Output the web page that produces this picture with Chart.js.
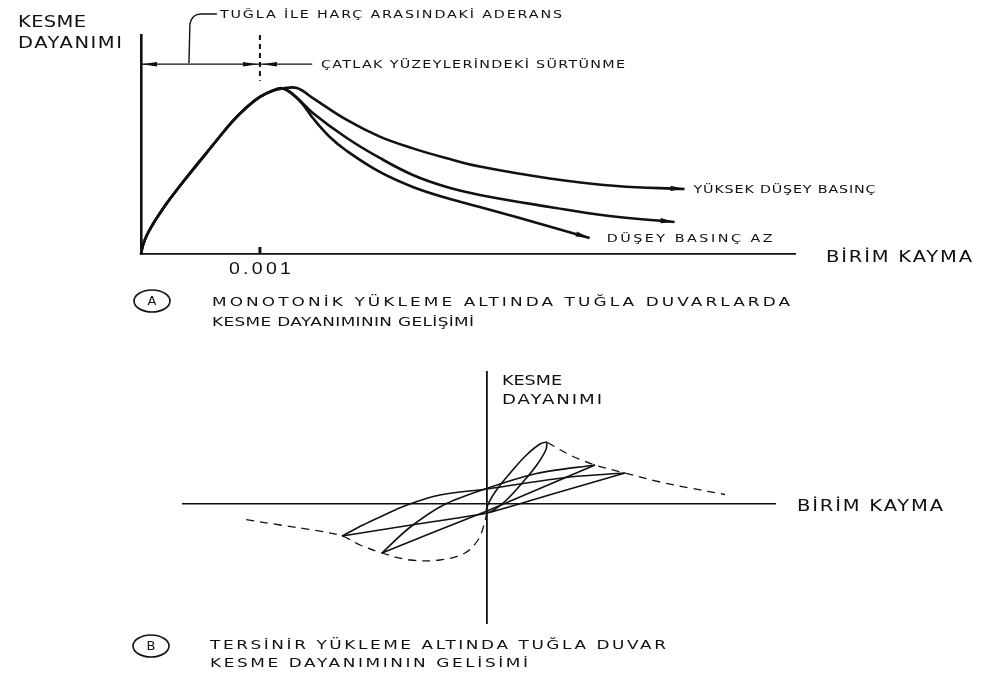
<!DOCTYPE html>
<html><head><meta charset="utf-8">
<script src="https://cdn.jsdelivr.net/npm/chart.js@4.4.0/dist/chart.umd.min.js"></script>
<style>
html,body{margin:0;padding:0;background:#fff;}
#wrap{position:relative;width:998px;height:679px;overflow:hidden;background:#fff;}
#ca{position:absolute;left:0;top:0;}
#cb{position:absolute;left:0;top:340px;}
</style></head><body>
<div id="wrap"><canvas id="ca" width="998" height="340"></canvas><canvas id="cb" width="998" height="339"></canvas></div>
<script>
// ===== Chart A: monotonic loading (x = unit shear strain in 10^-3, y = shear strength / peak) =====
const riseX = [0, 0.017, 0.050, 0.101, 0.160, 0.218, 0.353, 0.496, 0.639, 0.773, 0.891, 1.0, 1.101, 1.193];
const riseY = [0, 0.055, 0.115, 0.182, 0.248, 0.309, 0.436, 0.564, 0.691, 0.806, 0.891, 0.952, 0.988, 1.003];
const highX = [1.311, 1.445, 1.731, 2.008, 2.286, 2.571, 2.849, 3.437, 4.0, 4.571];
const highY = [1.006, 0.945, 0.812, 0.711, 0.640, 0.580, 0.530, 0.458, 0.412, 0.394];
const midX  = [1.277, 1.445, 1.731, 2.008, 2.286, 2.571, 2.849, 3.437, 3.941, 4.487];
const midY  = [0.970, 0.855, 0.703, 0.582, 0.479, 0.406, 0.358, 0.285, 0.230, 0.194];
const lowX  = [1.336, 1.445, 1.588, 1.731, 2.008, 2.286, 2.571, 2.849, 3.185, 3.479, 3.773];
const lowY  = [0.927, 0.824, 0.709, 0.624, 0.497, 0.406, 0.339, 0.285, 0.218, 0.158, 0.097];
const tickValuesA = [1.0];
const tickLabelsA = ['0.001'];
const seriesLabelsA = ['YÜKSEK DÜŞEY BASINÇ', '', 'DÜŞEY BASINÇ AZ'];
const zoneBoundary = 1.0;      // end of adhesion zone
const dimY = 1.15;             // level of dimension line
const dimEnd = 1.44;
const leaderX = 0.403;

// ===== Chart B: cyclic loading (arbitrary units) =====
const loop1X = [1.20, 1.06, 0.79, 0.48, 0.19, 0.02, 0.0, 0.14, 0.41, 0.72, 1.01, 1.18, 1.20];
const loop1Y = [1.24, 1.20, 0.98, 0.64, 0.28, -0.01, -0.16, -0.12, 0.10, 0.44, 0.80, 1.09, 1.24];
const loop2UpX = [-2.10, -1.57, -0.87, -0.01, 0.99, 2.16];
const loop2UpY = [-0.98, -0.49, -0.02, 0.31, 0.61, 0.78];
const loop2LoX = [2.16, 1.08, 0.0, -1.06, -2.10];
const loop2LoY = [0.78, 0.32, -0.14, -0.56, -0.98];
const loop3UpX = [-2.90, -2.48, -2.14, -1.60, -0.94, 0.0, 1.66, 2.76];
const loop3UpY = [-0.64, -0.42, -0.26, -0.02, 0.18, 0.30, 0.54, 0.62];
const loop3LoX = [2.76, 1.38, 0.0, -1.45, -2.90];
const loop3LoY = [0.62, 0.22, -0.18, -0.41, -0.64];
const envRightX = [1.21, 1.66, 2.16, 2.76, 3.46, 4.06, 4.76];
const envRightY = [1.23, 0.98, 0.78, 0.62, 0.44, 0.32, 0.19];
const envLeftX = [0.0, -0.06, -0.18, -0.44, -0.94, -1.54, -2.10, -2.54, -2.90, -3.48, -4.14, -4.88];
const envLeftY = [-0.16, -0.42, -0.72, -0.98, -1.12, -1.12, -0.98, -0.82, -0.64, -0.52, -0.42, -0.30];

const INK = '#111111';
const FONT = '"DejaVu Sans", "Liberation Sans", sans-serif';

function pts(xs, ys) { return xs.map((v, i) => ({ x: v, y: ys[i] })); }

// draws real text, stretched horizontally (hand-lettering look) to a target width
function drawText(ctx, str, x, y, w, size, align, family, maxStretch) {
  ctx.save();
  ctx.font = size + 'px ' + (family || FONT);
  ctx.fillStyle = INK;
  ctx.textBaseline = 'middle';
  ctx.textAlign = 'left';
  const hasLS = ('letterSpacing' in ctx);
  if (hasLS) ctx.letterSpacing = '0px';
  const m = ctx.measureText(str).width;
  const chars = Array.from(str);
  const n = chars.length;
  let sx = 1, ls = 0;
  if (w) {
    sx = Math.max(0.7, Math.min(maxStretch || 1.3, w / m));
    if (n > 1) ls = (w - m * sx) / (n - 1) / sx;
  }
  const tw = w || m;
  let x0 = align === 'center' ? x - tw / 2 : x;
  ctx.translate(x0, y);
  ctx.scale(sx, 1);
  if (hasLS) {
    ctx.letterSpacing = ls + 'px';
    ctx.fillText(str, 0, 0);
  } else {
    let cx = 0;
    for (const ch of chars) { ctx.fillText(ch, cx, 0); cx += ctx.measureText(ch).width + ls; }
  }
  ctx.restore();
}

function arrowHead(ctx, tipX, tipY, dx, dy, len, half) {
  const d = Math.hypot(dx, dy) || 1; const ux = dx / d, uy = dy / d;
  const bx = tipX - ux * len, by = tipY - uy * len;
  ctx.beginPath();
  ctx.moveTo(tipX, tipY);
  ctx.lineTo(bx - uy * half, by + ux * half);
  ctx.lineTo(bx + uy * half, by - ux * half);
  ctx.closePath(); ctx.fill();
}

function circledLetter(ctx, letter, cx, cy) {
  ctx.save();
  ctx.strokeStyle = INK; ctx.lineWidth = 1.6;
  ctx.beginPath(); ctx.ellipse(cx, cy, 18, 11, 0, 0, Math.PI * 2); ctx.stroke();
  ctx.restore();
  drawText(ctx, letter, cx, cy + 1, 0, 13, 'center');
}

const annotA = {
  id: 'annotA',
  afterDatasetsDraw(chart) {
    const { ctx, scales: { x, y } } = chart;
    ctx.save();
    ctx.strokeStyle = INK; ctx.fillStyle = INK;
    // arrows at the curve ends
    chart.data.datasets.forEach((ds, i) => {
      const el = chart.getDatasetMeta(i).data;
      const a = el[el.length - 1], b = el[el.length - 2];
      arrowHead(ctx, a.x, a.y, a.x - b.x, a.y - b.y, 14, 2.6);
    });
    // tick marks + labels
    tickValuesA.forEach((v, i) => {
      const px = x.getPixelForValue(v);
      ctx.lineWidth = 3;
      ctx.beginPath(); ctx.moveTo(px, y.bottom); ctx.lineTo(px, y.bottom - 7); ctx.stroke();
      drawText(ctx, tickLabelsA[i], px, y.bottom + 15, 62, 17, 'center', '"Liberation Sans", sans-serif', 1.15);
    });
    // dashed boundary
    const bx = x.getPixelForValue(zoneBoundary);
    ctx.setLineDash([5, 4]); ctx.lineWidth = 2;
    ctx.beginPath(); ctx.moveTo(bx, y.top); ctx.lineTo(bx, y.getPixelForValue(dimY - 0.1)); ctx.stroke();
    ctx.setLineDash([]);
    // dimension line
    const dy = y.getPixelForValue(dimY);
    const x0 = x.getPixelForValue(0), x2 = x.getPixelForValue(dimEnd);
    ctx.lineWidth = 1.3;
    ctx.beginPath(); ctx.moveTo(x0, dy); ctx.lineTo(x2, dy); ctx.stroke();
    arrowHead(ctx, x0 + 1, dy, -1, 0, 15, 2.2);
    arrowHead(ctx, bx - 2, dy, 1, 0, 15, 2.2);
    arrowHead(ctx, bx + 2, dy, -1, 0, 15, 2.2);
    // leader to adhesion label
    const lx = x.getPixelForValue(leaderX);
    ctx.lineWidth = 1.4;
    ctx.beginPath(); ctx.moveTo(lx, dy - 1); ctx.lineTo(lx + 1, 24);
    ctx.quadraticCurveTo(lx + 3, 14, lx + 12, 14); ctx.lineTo(lx + 28, 14); ctx.stroke();
    ctx.restore();
    // texts
    drawText(ctx, 'KESME', 18, 23, 68, 15);
    drawText(ctx, 'DAYANIMI', 18, 44, 104, 15);
    drawText(ctx, 'TUĞLA İLE HARÇ ARASINDAKİ ADERANS', 220, 15, 342, 11);
    drawText(ctx, 'ÇATLAK YÜZEYLERİNDEKİ SÜRTÜNME', 321, 65, 304, 11);
    const mt = chart.getDatasetMeta(0).data, mb = chart.getDatasetMeta(2).data;
    const et = mt[mt.length - 1], eb = mb[mb.length - 1];
    drawText(ctx, seriesLabelsA[0], et.x + 9, et.y + 1, 182, 11);
    drawText(ctx, seriesLabelsA[2], eb.x + 17, eb.y + 1, 166, 11);
    drawText(ctx, 'BİRİM KAYMA', 826, 258, 146, 15);
    circledLetter(ctx, 'A', 152, 301);
    drawText(ctx, 'MONOTONİK YÜKLEME ALTINDA TUĞLA DUVARLARDA', 212, 303, 578, 13);
    drawText(ctx, 'KESME DAYANIMININ GELİŞİMİ', 212, 323, 262, 13);
  }
};

function lineDs(data, w, opts) {
  return Object.assign({ data, showLine: true, borderColor: INK, backgroundColor: INK, borderWidth: w,
    pointRadius: 0, pointHoverRadius: 0, fill: false, clip: false }, opts || {});
}

new Chart(document.getElementById('ca'), {
  type: 'scatter',
  data: { datasets: [
    lineDs(pts(riseX.concat(highX), riseY.concat(highY)), 2.6, { tension: 0.4 }),
    lineDs(pts(riseX.concat(midX), riseY.concat(midY)), 2.6, { tension: 0.4 }),
    lineDs(pts(riseX.concat(lowX), riseY.concat(lowY)), 2.6, { tension: 0.4 })
  ] },
  options: {
    responsive: false, animation: false, devicePixelRatio: 1,
    layout: { padding: { left: 141, right: 203, top: 35, bottom: 86 } },
    plugins: { legend: { display: false }, tooltip: { enabled: false } },
    scales: {
      x: { type: 'linear', min: 0, max: 5.5, grid: { display: false, drawTicks: false }, ticks: { display: false },
           border: { display: true, color: INK, width: 1.8 } },
      y: { type: 'linear', min: 0, max: 1.327, grid: { display: false, drawTicks: false }, ticks: { display: false },
           border: { display: true, color: INK, width: 2.6 } }
    }
  },
  plugins: [annotA]
});

const annotB = {
  id: 'annotB',
  afterDraw(chart) {
    const { ctx } = chart;
    drawText(ctx, 'KESME', 502, 41, 60, 14);
    drawText(ctx, 'DAYANIMI', 502, 60, 100, 14);
    drawText(ctx, 'BİRİM KAYMA', 797, 167, 146, 15);
    circledLetter(ctx, 'B', 151, 306);
    drawText(ctx, 'TERSİNİR YÜKLEME ALTINDA TUĞLA DUVAR', 210, 306, 456, 13);
    drawText(ctx, 'KESME DAYANIMININ GELİSİMİ', 210, 324, 318, 13);
  }
};

new Chart(document.getElementById('cb'), {
  type: 'scatter',
  data: { datasets: [
    lineDs(pts(loop1X, loop1Y), 1.6, { tension: 0.4 }),
    lineDs(pts(loop2UpX, loop2UpY), 1.6, { tension: 0.3 }),
    lineDs(pts(loop2LoX, loop2LoY), 1.6, { tension: 0.2 }),
    lineDs(pts(loop3UpX, loop3UpY), 1.6, { tension: 0.35 }),
    lineDs(pts(loop3LoX, loop3LoY), 1.6, { tension: 0.2 }),
    lineDs(pts(envRightX, envRightY), 1.3, { tension: 0.35, borderDash: [8, 6] }),
    lineDs(pts(envLeftX, envLeftY), 1.3, { tension: 0.35, borderDash: [8, 6] })
  ] },
  options: {
    responsive: false, animation: false, devicePixelRatio: 1,
    layout: { padding: { left: 183, right: 223, top: 32, bottom: 56 } },
    plugins: { legend: { display: false }, tooltip: { enabled: false } },
    scales: {
      x: { type: 'linear', min: -6.08, max: 5.76, position: { y: 0 }, grid: { display: false, drawTicks: false },
           ticks: { display: false }, border: { display: true, color: INK, width: 1.5 } },
      y: { type: 'linear', min: -2.38, max: 2.64, position: { x: 0 }, grid: { display: false, drawTicks: false },
           ticks: { display: false }, border: { display: true, color: INK, width: 1.8 } }
    }
  },
  plugins: [annotB]
});
</script>
</body></html>
